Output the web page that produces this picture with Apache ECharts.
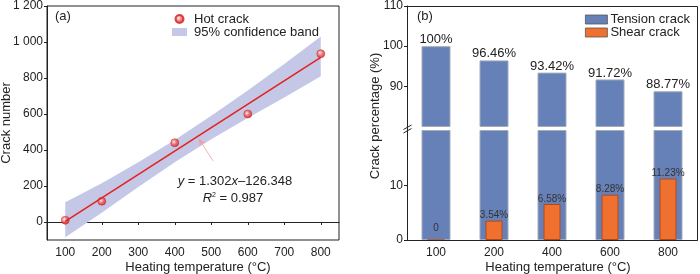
<!DOCTYPE html>
<html><head><meta charset="utf-8">
<script src="https://cdn.jsdelivr.net/npm/echarts@6/dist/echarts.min.js"></script>
<style>html,body{margin:0;padding:0;background:#fff}#c{width:700px;height:274px}</style>
</head><body><div id="c"></div>
<script>
// ---- data (a) ----
const tempA = [100, 200, 400, 600, 800];
const crackA = [10, 115, 440, 600, 935];
const fitX = [100, 800];
const fitY = [4, 915];
const bandX = [100, 200, 300, 400, 500, 600, 700, 800];
const bandUp = [110, 215, 332, 455, 590, 730, 878, 1030];
const bandLow = [-85, 52, 195, 332, 460, 578, 692, 810];
const xTicksA = [100, 200, 300, 400, 500, 600, 700, 800];
const yTicksA = [0, 200, 400, 600, 800, 1000, 1200];
// ---- data (b) ----
const catsB = ['100', '200', '400', '600', '800'];
const tension = [100, 96.46, 93.42, 91.72, 88.77];
const shear = [0, 3.54, 6.58, 8.28, 11.23];
const yTicksBUpper = [90, 100, 110];
const yTicksBLower = [0, 10];

const FONT = "'Liberation Sans', Arial, sans-serif";
const TXT = '#222';
const GA = {left: 47, top: 6, width: 292, height: 234};
const GB = {left: 407, width: 290, top: 6, upH: 120.5, lowTop: 130.5, lowH: 109.5};

const chart = echarts.init(document.getElementById('c'), null, {renderer: 'canvas'});

const axisLbl = {color: TXT, fontSize: 12, fontFamily: FONT};
const thousands = v => v >= 1000 ? String(v).replace(/(\d)(\d{3})$/, '$1 $2') : String(v);

const bandColor = '#c4c7e6';
const tensionColor = '#6680b8';
const shearColor = '#f07030';

const option = {
  animation: false,
  textStyle: {fontFamily: FONT},
  grid: [
    {left: GA.left, top: GA.top, width: GA.width, height: GA.height, show: true, borderColor: TXT, borderWidth: 1, backgroundColor: 'transparent'},
    {left: GB.left, top: GB.top, width: GB.width, height: GB.upH},
    {left: GB.left, top: GB.lowTop, width: GB.width, height: GB.lowH}
  ],
  xAxis: [
    {gridIndex: 0, type: 'value', min: 50, max: 850, splitLine: {show: false},
     axisLine: {lineStyle: {color: TXT}},
     axisTick: {customValues: xTicksA, length: 3, lineStyle: {color: TXT}},
     axisLabel: Object.assign({customValues: xTicksA, margin: 7}, axisLbl)},
    {gridIndex: 1, type: 'category', data: catsB, show: false},
    {gridIndex: 2, type: 'category', data: catsB,
     axisLine: {lineStyle: {color: TXT}},
     axisTick: {inside: true, alignWithLabel: true, length: 6, lineStyle: {color: TXT}},
     axisLabel: Object.assign({margin: 7}, axisLbl)},
    {gridIndex: 2, type: 'category', data: catsB, show: false}
  ],
  yAxis: [
    {gridIndex: 0, type: 'value', min: -100, max: 1200, splitLine: {show: false},
     axisLine: {show: true, lineStyle: {color: TXT}},
     axisTick: {show: true, customValues: yTicksA, length: 3, lineStyle: {color: TXT}},
     axisLabel: Object.assign({customValues: yTicksA, formatter: thousands, margin: 4}, axisLbl)},
    {gridIndex: 1, type: 'value', min: 80, max: 110, splitLine: {show: false},
     axisLine: {show: true, lineStyle: {color: TXT}},
     axisTick: {show: true, customValues: yTicksBUpper, length: 3, lineStyle: {color: TXT}},
     axisLabel: Object.assign({customValues: yTicksBUpper, margin: 4}, axisLbl)},
    {gridIndex: 2, type: 'value', min: 0, max: 20, splitLine: {show: false},
     axisLine: {show: true, lineStyle: {color: TXT}},
     axisTick: {show: true, customValues: yTicksBLower, length: 3, lineStyle: {color: TXT}},
     axisLabel: Object.assign({customValues: yTicksBLower, margin: 4}, axisLbl)}
  ],
  legend: [
    {left: 172, top: 12.5, padding: 0, orient: 'vertical', itemGap: 0, itemWidth: 15, itemHeight: 8,
     textStyle: {color: TXT, fontSize: 13, fontFamily: FONT, lineHeight: 12.5, padding: [0, 0, 0, 2]},
     data: [
       {name: 'Hot crack', icon: 'circle'},
       {name: '95% confidence band', icon: 'rect', itemStyle: {color: bandColor}}
     ]},
    {left: 585, top: 13, padding: 0, orient: 'vertical', itemGap: 0, itemWidth: 22, itemHeight: 9,
     textStyle: {color: TXT, fontSize: 13, fontFamily: FONT, lineHeight: 13, padding: [0, 0, 0, -2]},
     data: [
       {name: 'Tension crack', icon: 'rect', itemStyle: {color: tensionColor, borderColor: '#555', borderWidth: 0.8}},
       {name: 'Shear crack', icon: 'rect', itemStyle: {color: shearColor, borderColor: '#555', borderWidth: 0.8}}
     ]}
  ],
  series: [
    {name: '95% confidence band', type: 'custom', xAxisIndex: 0, yAxisIndex: 0,
     itemStyle: {color: bandColor},
     data: bandX.map((x, i) => [x, bandLow[i], bandUp[i]]),
     encode: {x: 0, y: [1, 2]},
     renderItem: function (params, api) {
       if (params.dataIndex !== 0) return null;
       const pts = [];
       for (let i = 0; i < bandX.length; i++) pts.push(api.coord([bandX[i], bandUp[i]]));
       for (let i = bandX.length - 1; i >= 0; i--) pts.push(api.coord([bandX[i], bandLow[i]]));
       return {type: 'polygon', shape: {points: pts}, style: {fill: bandColor}};
     }},
    {name: 'fit', type: 'line', xAxisIndex: 0, yAxisIndex: 0, symbol: 'none',
     data: fitX.map((x, i) => [x, fitY[i]]),
     lineStyle: {color: '#e3201b', width: 1.5},
     markLine: {silent: true, symbol: ['none', 'arrow'], symbolSize: [5, 7],
       label: {show: false},
       lineStyle: {color: '#f2a0a0', width: 0.8, type: 'solid'},
       data: [[{coord: [505, 339]}, {coord: [466, 462]}]]}},
    {name: 'Hot crack', type: 'scatter', xAxisIndex: 0, yAxisIndex: 0, symbolSize: 8,
     data: tempA.map((x, i) => [x, crackA[i]]),
     itemStyle: {color: {type: 'radial', x: 0.4, y: 0.4, r: 0.6,
       colorStops: [{offset: 0, color: '#fff2f2'}, {offset: 0.45, color: '#f06868'}, {offset: 1, color: '#c81a1a'}]},
       borderColor: '#d42020', borderWidth: 0.6}},
    {name: 'Tension crack', type: 'bar', xAxisIndex: 1, yAxisIndex: 1, barWidth: 29, data: tension,
     itemStyle: {color: tensionColor, borderColor: '#a4abbb', borderWidth: 1},
     label: {show: true, position: 'top', distance: 0, color: TXT, fontSize: 13, fontFamily: FONT,
       formatter: p => p.value + '%'}},
    {name: 'Tension crack', type: 'bar', xAxisIndex: 2, yAxisIndex: 2, barWidth: 29, data: tension,
     itemStyle: {color: tensionColor, borderColor: '#a4abbb', borderWidth: 1}},
    {name: 'Shear crack', type: 'bar', xAxisIndex: 3, yAxisIndex: 2, barWidth: 17,
     data: shear.map((v, i) => v === 0 ? {value: v, label: {distance: 6}} : v),
     itemStyle: {color: shearColor, borderColor: '#b04a1a', borderWidth: 1},
     label: {show: true, position: 'top', distance: 0, color: '#333', fontSize: 10, fontFamily: FONT,
       formatter: p => p.value === 0 ? '0' : p.value + '%'}}
  ],
  graphic: [
    {type: 'rect', silent: true, z: 100, shape: {x: GB.left + 0.5, y: GB.top + 0.5, width: GB.width, height: GB.lowTop + GB.lowH - GB.top},
     style: {fill: 'none', stroke: TXT, lineWidth: 1}},
    {type: 'line', z: 101, shape: {x1: GB.left - 3.5, y1: 129.5, x2: GB.left + 4.5, y2: 125}, style: {stroke: TXT, lineWidth: 1}},
    {type: 'line', z: 101, shape: {x1: GB.left - 3.5, y1: 133, x2: GB.left + 4.5, y2: 128.5}, style: {stroke: TXT, lineWidth: 1}},
    {type: 'text', left: 55, top: 10, style: {text: '(a)', fontSize: 13, fontFamily: FONT, fill: TXT}},
    {type: 'text', left: 417, top: 10, style: {text: '(b)', fontSize: 13, fontFamily: FONT, fill: TXT}},
    {type: 'text', x: 235, y: 181, style: {text: '{i|y} = 1.302{i|x}–126.348', align: 'center', verticalAlign: 'middle',
      fontSize: 13, fontFamily: FONT, fill: TXT, rich: {i: {fontStyle: 'italic', fontSize: 13, fontFamily: FONT}}}},
    {type: 'text', x: 233, y: 198, style: {text: '{i|R}{s|2} = 0.987', align: 'center', verticalAlign: 'middle',
      fontSize: 13, fontFamily: FONT, fill: TXT, rich: {i: {fontStyle: 'italic', fontSize: 13, fontFamily: FONT}, s: {fontSize: 7, verticalAlign: 'top', padding: [0, 0, 6, 0]}}}},
    {type: 'text', x: 6, y: 123, rotation: Math.PI / 2, style: {text: 'Crack number', align: 'center', verticalAlign: 'middle', fontSize: 13, fontFamily: FONT, fill: TXT}},
    {type: 'text', x: 375, y: 116, rotation: Math.PI / 2, style: {text: 'Crack percentage (%)', align: 'center', verticalAlign: 'middle', fontSize: 13, fontFamily: FONT, fill: TXT}},
    {type: 'text', x: 198, y: 267, style: {text: 'Heating temperature (°C)', align: 'center', verticalAlign: 'middle', fontSize: 13, fontFamily: FONT, fill: TXT}},
    {type: 'text', x: 558, y: 267, style: {text: 'Heating temperature (°C)', align: 'center', verticalAlign: 'middle', fontSize: 13, fontFamily: FONT, fill: TXT}}
  ]
};
chart.setOption(option);
</script></body></html>
